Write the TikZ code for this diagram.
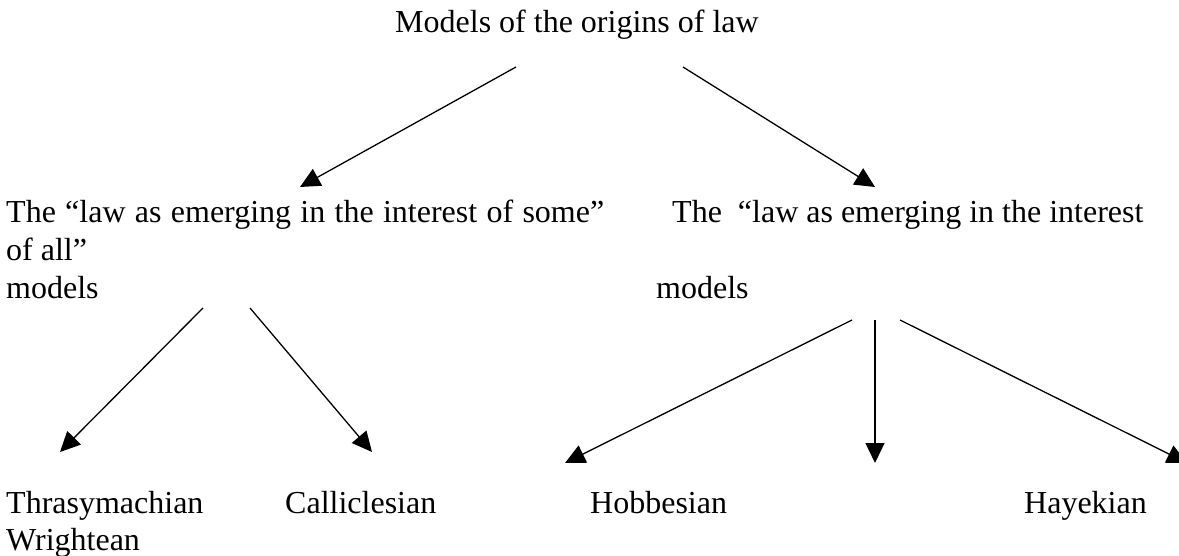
\documentclass[tikz,border=0pt]{standalone}
\usepackage{fontspec}
\setmainfont{Liberation Serif}
\usetikzlibrary{arrows.meta}
\begin{document}
\begin{tikzpicture}[x=1pt,y=-1pt,
  txt/.style={inner sep=0pt, anchor=base west, font=\fontsize{32}{38}\selectfont},
  arr/.style={line width=1.3pt, -{Triangle[length=20pt,width=19pt]}}]
\useasboundingbox (0,0) rectangle (1179,556);
\clip (0,0) rectangle (1179,556);
% texts
\node[txt] (title) at (395,33) {Models of the origins of law};
\node[txt] (l1) at (6,223) {\makebox[598pt][s]{The “law as emerging in the interest of some”}};
\node[txt] (l2) at (6,261) {of all”};
\node[txt] (l3) at (6,299) {models};
\node[txt] (r1) at (672,223) {The\ \ “law as emerging in the interest};
\node[txt] (r3) at (656,299) {models};
\node[txt] (thr) at (6,513) {Thrasymachian};
\node[txt] (wri) at (6,550) {Wrightean};
\node[txt] (cal) at (285,513) {Calliclesian};
\node[txt] (hob) at (590,513) {Hobbesian};
\node[txt] (hay) at (1024,513) {Hayekian};
% connector ends
\coordinate (aS) at (516,67);  \coordinate (aT) at (300,187);
\coordinate (bS) at (683,67);  \coordinate (bT) at (875,187);
\coordinate (cS) at (203,308); \coordinate (cT) at (60,452);
\coordinate (dS) at (250,308); \coordinate (dT) at (372,452);
\coordinate (eS) at (852,320); \coordinate (eT) at (565,463);
\coordinate (fS) at (875,320); \coordinate (fT) at (875,463);
\coordinate (gS) at (900,320); \coordinate (gT) at (1187,463);
\draw[arr] (aS) -- (aT);
\draw[arr] (bS) -- (bT);
\draw[arr] (cS) -- (cT);
\draw[arr] (dS) -- (dT);
\draw[arr] (eS) -- (eT);
\draw[arr] (fS) -- (fT);
\draw[arr] (gS) -- (gT);
\end{tikzpicture}
\end{document}
